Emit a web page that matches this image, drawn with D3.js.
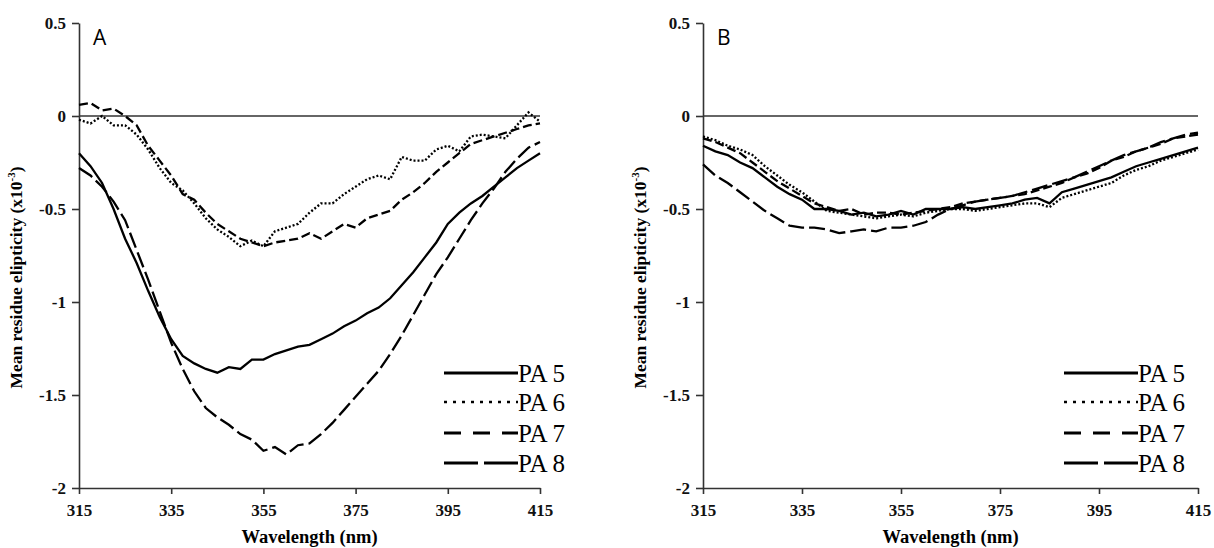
<!DOCTYPE html>
<html>
<head>
<meta charset="utf-8">
<script src="https://cdn.jsdelivr.net/npm/d3@7"></script>
<style>
  html, body { margin: 0; padding: 0; background: #fff; }
  svg { display: block; }
  .serif { font-family: "Liberation Serif", "Times New Roman", Times, "DejaVu Serif", serif; }
  .tick text { font-family: "Liberation Serif", "Times New Roman", Times, "DejaVu Serif", serif; font-weight: bold; font-size: 17px; fill: #111; }
  .axis path, .axis line { stroke: #333; stroke-width: 1.6; }
  .curve { fill: none; stroke: #000; stroke-width: 2.3; }
</style>
</head>
<body>
<svg id="chart" width="1214" height="548"></svg>
<script>
// wavelength grid (nm)
const wavelengths = [315, 317.5, 320, 322.5, 325, 327.5, 330, 332.5, 335, 337.5,
  340, 342.5, 345, 347.5, 350, 352.5, 355, 357.5, 360, 362.5,
  365, 367.5, 370, 372.5, 375, 377.5, 380, 382.5, 385, 387.5,
  390, 392.5, 395, 397.5, 400, 402.5, 405, 407.5, 410, 412.5, 415];

// panel A
const pa5A = [-0.20, -0.27, -0.36, -0.50, -0.66, -0.79, -0.94, -1.08, -1.20, -1.29,
  -1.33, -1.36, -1.38, -1.35, -1.36, -1.31, -1.31, -1.28, -1.26, -1.24,
  -1.23, -1.20, -1.17, -1.13, -1.10, -1.06, -1.03, -0.98, -0.91, -0.84,
  -0.76, -0.68, -0.58, -0.52, -0.47, -0.43, -0.38, -0.33, -0.28, -0.24, -0.20];
const pa6A = [-0.02, -0.04, 0.00, -0.05, -0.05, -0.10, -0.18, -0.28, -0.36, -0.40,
  -0.47, -0.55, -0.61, -0.65, -0.70, -0.67, -0.70, -0.62, -0.60, -0.58,
  -0.52, -0.47, -0.47, -0.42, -0.38, -0.34, -0.32, -0.34, -0.22, -0.24,
  -0.24, -0.18, -0.16, -0.19, -0.11, -0.10, -0.11, -0.12, -0.05, 0.02, -0.03];
const pa7A = [0.06, 0.07, 0.03, 0.04, 0.00, -0.05, -0.16, -0.24, -0.32, -0.42,
  -0.45, -0.52, -0.58, -0.62, -0.66, -0.68, -0.70, -0.68, -0.67, -0.66,
  -0.63, -0.66, -0.62, -0.58, -0.60, -0.55, -0.53, -0.51, -0.45, -0.41,
  -0.36, -0.30, -0.25, -0.20, -0.15, -0.13, -0.11, -0.09, -0.07, -0.05, -0.04];
const pa8A = [-0.28, -0.32, -0.38, -0.46, -0.56, -0.72, -0.88, -1.05, -1.22, -1.36,
  -1.48, -1.57, -1.62, -1.66, -1.71, -1.74, -1.80, -1.78, -1.82, -1.77,
  -1.76, -1.71, -1.65, -1.58, -1.51, -1.44, -1.37, -1.28, -1.18, -1.07,
  -0.96, -0.85, -0.76, -0.66, -0.56, -0.47, -0.39, -0.30, -0.23, -0.17, -0.14];

// panel B
const pa5B = [-0.16, -0.19, -0.21, -0.25, -0.28, -0.33, -0.38, -0.42, -0.45, -0.50,
  -0.50, -0.51, -0.53, -0.52, -0.54, -0.53, -0.51, -0.53, -0.50, -0.50,
  -0.50, -0.49, -0.50, -0.49, -0.48, -0.47, -0.45, -0.44, -0.47, -0.41,
  -0.39, -0.37, -0.35, -0.33, -0.30, -0.27, -0.25, -0.23, -0.21, -0.19, -0.17];
const pa6B = [-0.11, -0.13, -0.16, -0.18, -0.21, -0.27, -0.32, -0.37, -0.41, -0.46,
  -0.51, -0.52, -0.53, -0.54, -0.55, -0.54, -0.53, -0.54, -0.52, -0.51,
  -0.50, -0.50, -0.51, -0.50, -0.49, -0.48, -0.47, -0.47, -0.49, -0.44,
  -0.42, -0.40, -0.38, -0.36, -0.32, -0.29, -0.27, -0.24, -0.22, -0.20, -0.18];
const pa7B = [-0.12, -0.14, -0.17, -0.20, -0.25, -0.30, -0.35, -0.39, -0.43, -0.47,
  -0.49, -0.51, -0.50, -0.53, -0.52, -0.52, -0.53, -0.52, -0.51, -0.50,
  -0.49, -0.47, -0.46, -0.45, -0.44, -0.43, -0.42, -0.40, -0.38, -0.36,
  -0.33, -0.31, -0.28, -0.24, -0.22, -0.19, -0.17, -0.15, -0.12, -0.11, -0.10];
const pa8B = [-0.26, -0.32, -0.36, -0.41, -0.46, -0.51, -0.55, -0.59, -0.60, -0.60,
  -0.61, -0.63, -0.62, -0.61, -0.62, -0.60, -0.60, -0.59, -0.57, -0.53,
  -0.50, -0.48, -0.46, -0.45, -0.44, -0.43, -0.41, -0.39, -0.37, -0.35,
  -0.33, -0.30, -0.27, -0.24, -0.21, -0.19, -0.17, -0.14, -0.12, -0.10, -0.09];

const seriesNames = ["PA 5", "PA 6", "PA 7", "PA 8"];
const xTicks = [315, 335, 355, 375, 395, 415];
const yTicks = [-2, -1.5, -1, -0.5, 0, 0.5];

// line styles: plot dash, legend dash
const styles = [
  { dash: null, legendDash: null, width: 2.3, legendWidth: 3 },
  { dash: "2,2", legendDash: "3,6", width: 2, legendWidth: 2.6 },
  { dash: "9,4", legendDash: "17,12", width: 2.3, legendWidth: 3 },
  { dash: "16,5", legendDash: "34,6", width: 2.3, legendWidth: 3 }
];

const panels = [
  { label: "A", left: 79, right: 540, series: [pa5A, pa6A, pa7A, pa8A], legendX: 444 },
  { label: "B", left: 703, right: 1198, series: [pa5B, pa6B, pa7B, pa8B], legendX: 1064 }
];

const plotTop = 23, plotBottom = 488;
const svg = d3.select("#chart");

panels.forEach(p => {
  const x = d3.scaleLinear().domain([315, 415]).range([p.left, p.right]);
  const y = d3.scaleLinear().domain([-2, 0.5]).range([plotBottom, plotTop]);
  const g = svg.append("g");

  // zero line
  g.append("line")
    .attr("x1", x(315)).attr("x2", x(415))
    .attr("y1", y(0)).attr("y2", y(0))
    .attr("stroke", "#333").attr("stroke-width", 1.6);

  g.append("g")
    .attr("class", "axis")
    .attr("transform", `translate(0,${plotBottom})`)
    .call(d3.axisBottom(x).tickValues(xTicks).tickSize(6).tickSizeOuter(0).tickPadding(8))
    .selectAll("text").attr("dy", "0.8em");

  g.append("g")
    .attr("class", "axis")
    .attr("transform", `translate(${p.left},0)`)
    .call(d3.axisLeft(y).tickValues(yTicks).tickSize(7).tickSizeOuter(0).tickPadding(6)
      .tickFormat(d => d === 0 ? "0" : String(d)));

  // curves
  const line = d3.line()
    .x((d, i) => x(wavelengths[i]))
    .y(d => y(d))
    .curve(d3.curveLinear);

  p.series.forEach((s, i) => {
    g.append("path")
      .datum(s)
      .attr("class", "curve")
      .attr("d", line)
      .attr("stroke-width", styles[i].width)
      .attr("stroke-dasharray", styles[i].dash);
  });

  // panel letter
  g.append("text")
    .attr("x", p.left + 14).attr("y", 45)
    .attr("font-family", "'Open Sans', 'DejaVu Sans', sans-serif")
    .attr("font-size", 21)
    .text(p.label);

  // axis titles
  g.append("text")
    .attr("class", "serif")
    .attr("x", (p.left + p.right) / 2).attr("y", 543)
    .attr("text-anchor", "middle")
    .attr("font-weight", "bold").attr("font-size", 18.5)
    .text("Wavelength (nm)");

  const yt = g.append("text")
    .attr("class", "serif")
    .attr("transform", `translate(${p.left - 57},${(plotTop + plotBottom) / 2 + 22}) rotate(-90)`)
    .attr("text-anchor", "middle")
    .attr("font-weight", "bold").attr("font-size", 17.5);
  yt.append("tspan").text("Mean residue elipticity (x10");
  yt.append("tspan").attr("font-size", 11).attr("dy", -7).text("-3");
  yt.append("tspan").attr("dy", 7).text(")");

  // legend
  const legendRows = [373, 402, 433, 463];
  seriesNames.forEach((name, i) => {
    g.append("line")
      .attr("x1", p.legendX).attr("x2", p.legendX + 74)
      .attr("y1", legendRows[i]).attr("y2", legendRows[i])
      .attr("stroke", "#000")
      .attr("stroke-width", styles[i].legendWidth)
      .attr("stroke-dasharray", styles[i].legendDash);
    g.append("text")
      .attr("class", "serif")
      .attr("x", p.legendX + 74).attr("y", legendRows[i] + 9)
      .attr("font-size", 25)
      .text(name);
  });
});
</script>
</body>
</html>
